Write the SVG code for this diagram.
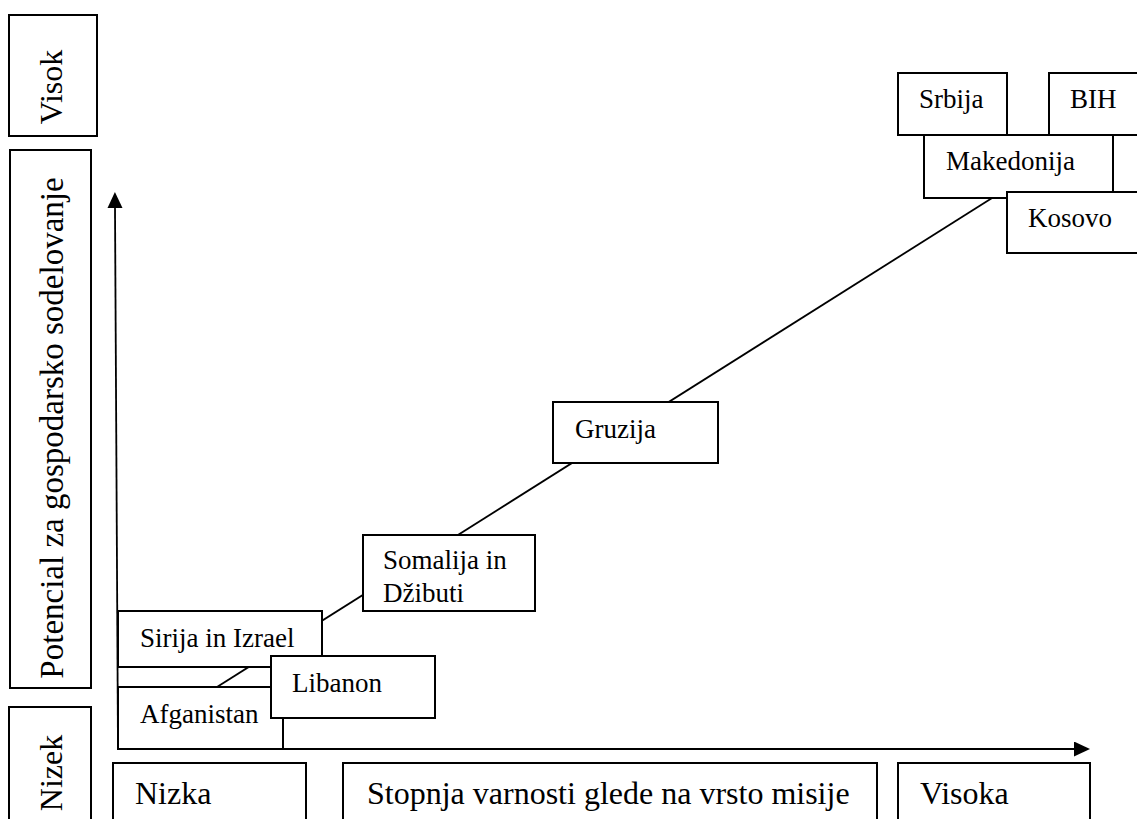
<svg xmlns="http://www.w3.org/2000/svg" width="1137" height="819" viewBox="0 0 1137 819">
<style>
.box{fill:#fff;stroke:#000;stroke-width:2}
.lbl{font-family:"Liberation Serif","Times New Roman",serif;font-size:27px;fill:#000}
.ax{font-family:"Liberation Serif","Times New Roman",serif;font-size:32px;fill:#000}
.conn{stroke:#000;stroke-width:1.8;fill:none}
</style>
<defs>
<marker id="arr" markerUnits="userSpaceOnUse" markerWidth="17" markerHeight="16" refX="0" refY="7.5" orient="auto">
<path d="M0,0 L16,7.5 L0,15 z" fill="#000"/>
</marker>
</defs>
<rect width="1137" height="819" fill="#fff"/>
<g id="connectors">
<line class="conn" x1="118" y1="749" x2="1074" y2="749" marker-end="url(#arr)"/>
<line class="conn" x1="118" y1="749" x2="115" y2="208" marker-end="url(#arr)"/>
<line class="conn" x1="217" y1="687" x2="1000" y2="193"/>
</g>
<g id="visok"><rect class="box" x="9" y="15" width="88" height="121"/><text class="ax" transform="translate(62,87) rotate(-90)" text-anchor="middle">Visok</text></g>
<g id="potencial"><rect class="box" x="10" y="150" width="81" height="538"/><text class="ax" style="font-size:33px" transform="translate(63,428) rotate(-90)" text-anchor="middle">Potencial za gospodarsko sodelovanje</text></g>
<g id="nizek"><rect class="box" x="9" y="707" width="82" height="130"/><text class="ax" transform="translate(62,773) rotate(-90)" text-anchor="middle">Nizek</text></g>
<g id="nizka"><rect class="box" x="113" y="763" width="193" height="80"/><text class="ax" x="135" y="804">Nizka</text></g>
<g id="stopnja"><rect class="box" x="343" y="763" width="534" height="80"/><text class="ax" x="367" y="804">Stopnja varnosti glede na vrsto misije</text></g>
<g id="visoka"><rect class="box" x="898" y="763" width="192" height="80"/><text class="ax" x="920" y="804">Visoka</text></g>
<g id="srbija"><rect class="box" x="898" y="73" width="109" height="62"/><text class="lbl" x="919" y="108">Srbija</text></g>
<g id="bih"><rect class="box" x="1049" y="73" width="95" height="62"/><text class="lbl" x="1070" y="108">BIH</text></g>
<g id="makedonija"><rect class="box" x="924" y="135" width="189" height="63"/><text class="lbl" x="946" y="170">Makedonija</text></g>
<g id="kosovo"><rect class="box" x="1007" y="192" width="137" height="61"/><text class="lbl" x="1028" y="227">Kosovo</text></g>
<g id="gruzija"><rect class="box" x="553" y="402" width="165" height="61"/><text class="lbl" x="575" y="438">Gruzija</text></g>
<g id="somalija"><rect class="box" x="363" y="535" width="172" height="76"/><text class="lbl" x="383" y="569">Somalija in</text><text class="lbl" x="383" y="602">Džibuti</text></g>
<g id="sirija"><rect class="box" x="118" y="611" width="204" height="56"/><text class="lbl" x="140" y="647">Sirija in Izrael</text></g>
<g id="afganistan"><rect class="box" x="118" y="687" width="165" height="62"/><text class="lbl" x="140" y="723">Afganistan</text></g>
<g id="libanon"><rect class="box" x="271" y="656" width="164" height="62"/><text class="lbl" x="292" y="692">Libanon</text></g>
</svg>
